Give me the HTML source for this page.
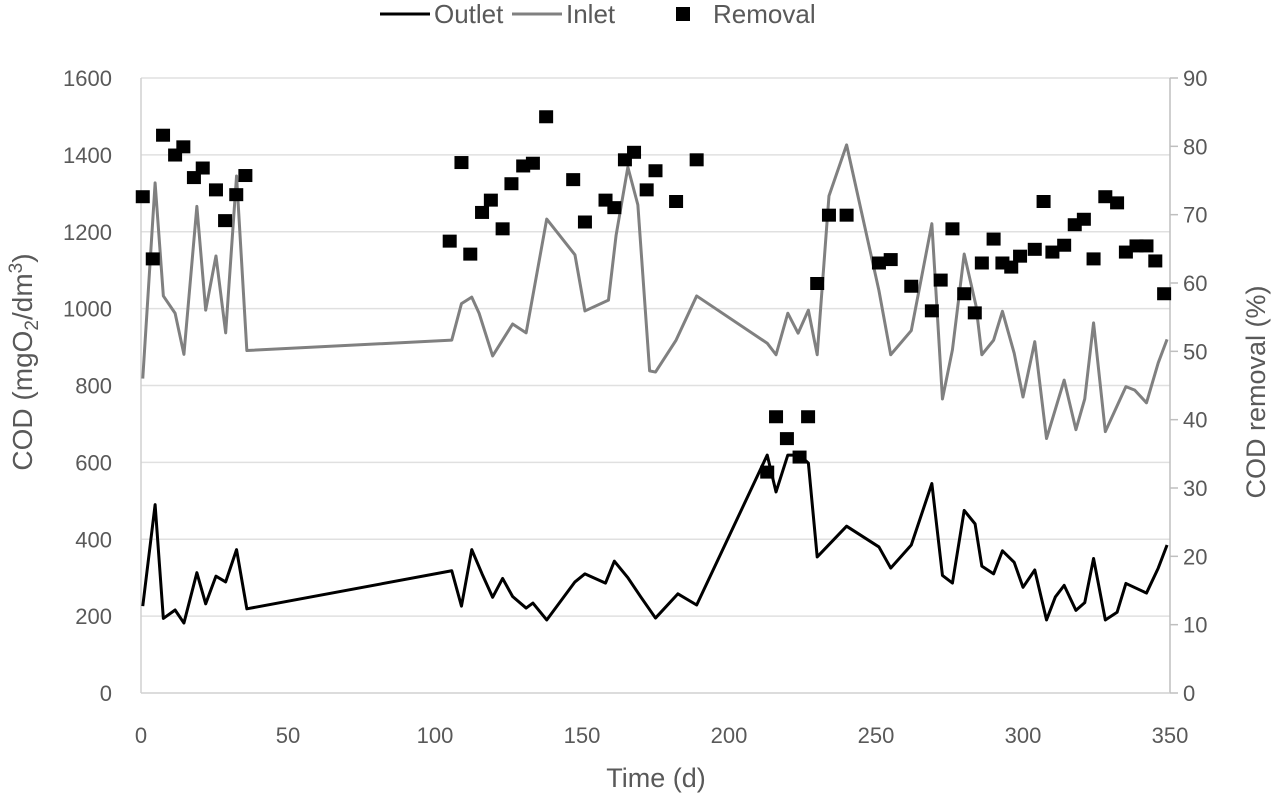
<!DOCTYPE html>
<html><head><meta charset="utf-8"><style>
body{margin:0;background:#fff;}
svg text{font-family:"Liberation Sans",sans-serif;fill:#595959;}
</style></head><body>
<svg id="chart" width="1280" height="804">
<g id="grid"></g>
<g id="axes"></g>
<g id="series"></g>
<g>
  <line x1="380" y1="14" x2="430" y2="14" stroke="#000" stroke-width="3"/>
  <text x="434" y="23" font-size="26">Outlet</text>
  <line x1="512" y1="14" x2="562" y2="14" stroke="#808080" stroke-width="3"/>
  <text x="566" y="23" font-size="26">Inlet</text>
  <rect x="676" y="7" width="14" height="14" fill="#000"/>
  <text x="713" y="23" font-size="26">Removal</text>
</g>
<text x="656" y="787" font-size="27" text-anchor="middle">Time (d)</text>
<text transform="translate(32,362) rotate(-90)" font-size="28" text-anchor="middle">COD (mgO<tspan font-size="19" dy="6">2</tspan><tspan dy="-6">/dm</tspan><tspan font-size="19" dy="-10">3</tspan><tspan dy="10">)</tspan></text>
<text transform="translate(1265,392) rotate(-90)" font-size="27" text-anchor="middle">COD removal (%)</text>
</svg>
<script>
const xTicks=[0,50,100,150,200,250,300,350];
const yTicks=[0,200,400,600,800,1000,1200,1400,1600];
const y2Ticks=[0,10,20,30,40,50,60,70,80,90];
const outletDays=[0.6,4.8,7.6,11.6,14.6,19,22,25.5,28.8,32.5,36,105.7,109,112.5,116,119.6,123,126.4,131,133.3,138,147.6,151,158,161,165.6,170,175,182.6,189,213,216,220,224,227,230,240,251,255,262,269,272.6,276,280,283.7,286,290,293,297,300,304,308,311,314,318,321,324,328,332,335,342,346,349];
const outletVals=[226,490,194,216,182,313,232,304,289,373,219,318,226,373,310,249,298,251,221,234,190,289,310,286,343,300,250,195,258,229,619,523,619,619,598,354,434,380,325,385,545,306,286,475,440,330,310,370,340,275,320,190,250,280,215,235,350,190,210,285,260,325,385];
const inletDays=[0.6,4.8,7.6,11.6,14.6,19,22,25.5,28.8,32.5,36,105.7,109,112.5,115,119.6,126.4,131,138,147.6,151,159,161.6,165.6,169,173,175,182,189,213,216,220,223.5,227,230,234,240,251,255,262,269,272.6,276,280,284,286,290,293,297,300,304,308,314,318,321,324,328,335,338,342,346,349];
const inletVals=[818,1327,1033,988,881,1266,996,1137,937,1345,891,918,1013,1030,988,877,960,937,1233,1140,994,1022,1191,1368,1270,838,835,918,1033,910,880,988,936,996,880,1293,1426,1047,880,943,1221,765,893,1142,1008,880,918,993,884,770,914,662,814,685,765,963,680,797,788,755,859,920];
const removalDays=[0.6,4,7.5,11.6,14.4,18,21,25.5,28.6,32.4,35.5,105,109,112,116,119,123,126,130,133.3,137.8,147,151,158,161,164.6,167.7,172,175,182,189,213,216,219.7,224,226.9,230,234,240,251,255,262,269,272,276,280,283.6,286,290,293,296,299,304,307,310,314,317.6,320.7,324,328,332,335,338.6,342,345,348];
const removalVals=[72.7,63.6,81.7,78.8,80,75.5,76.9,73.7,69.2,73,75.8,66.2,77.7,64.3,70.4,72.2,68,74.6,77.2,77.6,84.4,75.2,69,72.2,71.1,78.1,79.2,73.7,76.5,72,78.1,32.4,40.5,37.3,34.6,40.5,60,70,70,63,63.5,59.6,56,60.5,68,58.5,55.7,63,66.5,63,62.4,64,65,72,64.6,65.6,68.6,69.4,63.6,72.7,71.8,64.6,65.5,65.5,63.3,58.5];

const X0=141,X1=1170,Y0=693,Y1=78;
const xs=d=>X0+(d-0)/(350-0)*(X1-X0);
const ys=v=>Y0-v/1600*(Y0-Y1);
const ys2=v=>Y0-v/90*(Y0-Y1);
const NS='http://www.w3.org/2000/svg';
function mk(tag,attrs,parent){const e=document.createElementNS(NS,tag);for(const k in attrs)e.setAttribute(k,attrs[k]);parent.appendChild(e);return e;}
const grid=document.getElementById('grid'),axes=document.getElementById('axes'),series=document.getElementById('series');
yTicks.forEach(t=>{
  if(t>0){const g=mk('line',{x1:X0,x2:X1,y1:ys(t),y2:ys(t),stroke:'#e0e0e0','stroke-width':1.5},grid);
  
  }
  const l=mk('text',{x:112,y:ys(t)+8,'font-size':22,'text-anchor':'end'},axes);l.textContent=t;
  
  
});
y2Ticks.forEach(t=>{
  const tk=mk('line',{x1:X1,x2:X1+8,y1:ys2(t),y2:ys2(t),stroke:'#bfbfbf','stroke-width':1.5},axes);
  
  
  const l=mk('text',{x:1183,y:ys2(t)+8,'font-size':22},axes);l.textContent=t;
  
  
});
xTicks.forEach(t=>{
  const l=mk('text',{x:xs(t),y:743,'font-size':22,'text-anchor':'middle'},axes);l.textContent=t;
  
  
});
const la=mk('line',{x1:X0,x2:X0,y1:Y1,y2:Y0,stroke:'#d0d0d0','stroke-width':1.5},axes);


const ra=mk('line',{x1:X1,x2:X1,y1:Y1,y2:Y0,stroke:'#bfbfbf','stroke-width':1.5},axes);


const ba=mk('line',{x1:X0,x2:X1,y1:Y0,y2:Y0,stroke:'#d0d0d0','stroke-width':1.5},axes);



const inl=mk('polyline',{points:inletDays.map((d,i)=>xs(d)+','+ys(inletVals[i])).join(' '),fill:'none',stroke:'#808080','stroke-width':3,'stroke-linejoin':'round'},series);


const out=mk('polyline',{points:outletDays.map((d,i)=>xs(d)+','+ys(outletVals[i])).join(' '),fill:'none',stroke:'#000','stroke-width':3,'stroke-linejoin':'round'},series);


removalDays.forEach((d,i)=>{
  const r=mk('rect',{x:xs(d)-7,y:ys2(removalVals[i])-6,width:14,height:13,fill:'#000'},series);
  
  
});
</script>
</body></html>
